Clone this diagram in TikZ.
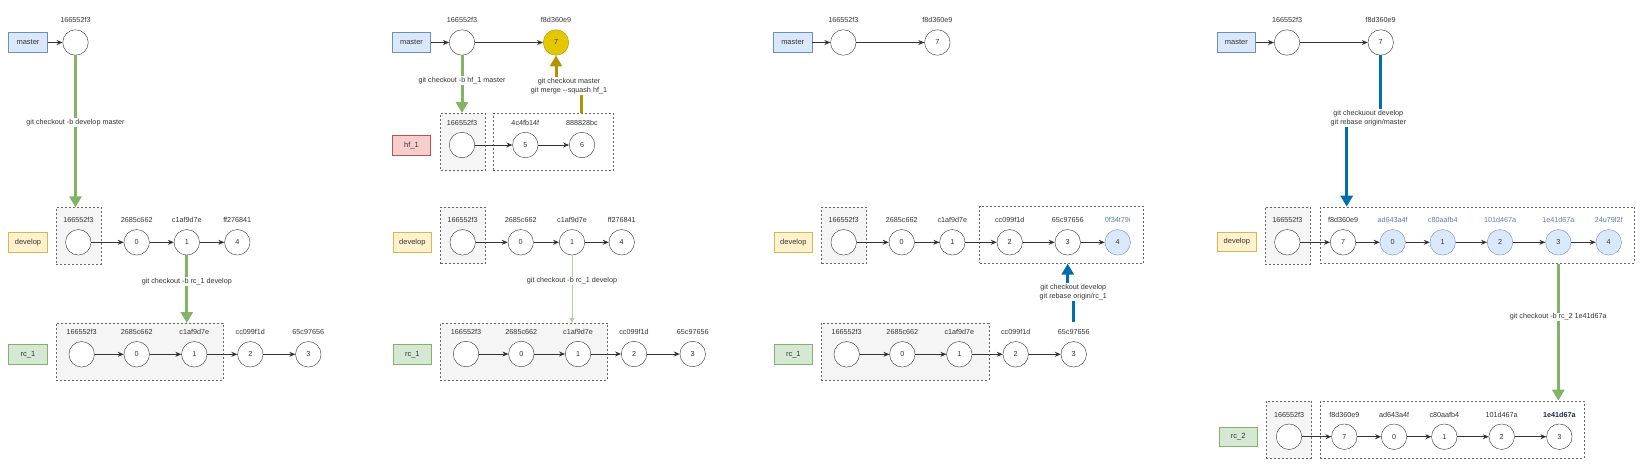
\documentclass[tikz,border=0pt]{standalone}
\usepackage{fontspec}
\setmainfont{Liberation Sans}
\usetikzlibrary{arrows.meta}

\definecolor{txtgray}{HTML}{333333}
\definecolor{mblue}{HTML}{DAE8FC}
\definecolor{mblueline}{HTML}{6C8EBF}
\definecolor{dyellow}{HTML}{FFF2CC}
\definecolor{dyellowline}{HTML}{D6B656}
\definecolor{hred}{HTML}{F8CECC}
\definecolor{hredline}{HTML}{B85450}
\definecolor{rgreen}{HTML}{D5E8D4}
\definecolor{rgreenline}{HTML}{82B366}
\definecolor{grpfill}{HTML}{F5F5F5}
\definecolor{grpline}{HTML}{666666}
\definecolor{squash}{HTML}{E3C800}
\definecolor{squashline}{HTML}{B09500}
\definecolor{rebase}{HTML}{006EAF}
\definecolor{lgreen}{HTML}{B3D1A0}
\definecolor{newhash}{HTML}{5B7DB8}
\definecolor{boldhash}{HTML}{1A2A4A}

\tikzset{
 commit/.style={circle, draw=txtgray, fill=white, minimum size=25.5pt, inner sep=0pt,
  font=\fontsize{7.2}{8}\selectfont, text=txtgray},
 newcommit/.style={commit, fill=mblue, draw=mblueline},
 hash/.style={font=\fontsize{7.2}{8}\selectfont, text=txtgray, label distance=3pt},
 newhashlab/.style={hash, text=newhash},
 branch/.style={rectangle, minimum width=38.5pt, minimum height=19.5pt, inner sep=0pt,
  line width=0.8pt, font=\fontsize{7.5}{9}\selectfont, text=txtgray},
 grpbox/.style={rectangle, fill=grpfill, draw=grpline, dash pattern=on 2pt off 2pt, line width=0.6pt, inner sep=0pt},
 newbox/.style={rectangle, draw=grpline, dash pattern=on 2pt off 2pt, line width=0.6pt, inner sep=0pt},
 link/.style={draw=txtgray, line width=0.8pt, -{Stealth[length=6pt,width=5pt]}},
 cmd/.style={fill=white, inner sep=1pt, font=\fontsize{7.2}{9}\selectfont, text=txtgray, align=center},
 greenarrow/.style={draw=rgreenline, line width=3pt, -{Triangle[length=11pt,width=12pt]}},
 lgreenarrow/.style={draw=lgreen, line width=1pt, -{Triangle[length=5pt,width=5pt]}},
 squasharrow/.style={draw=squashline, line width=3pt, -{Triangle[length=11pt,width=12pt]}},
 squashbar/.style={draw=squashline, line width=3pt},
 bluearrow/.style={draw=rebase, line width=3pt, -{Triangle[length=11pt,width=12pt]}},
 bluebar/.style={draw=rebase, line width=3pt}
}

\begin{document}
\begin{tikzpicture}[x=1pt,y=-1pt]
 \useasboundingbox (0,0) rectangle (1648,469);

 % ---- panel 1 : develop and rc_1 from master
 \node[branch,fill=mblue,draw=mblueline] (p1mb) at (28,42.5) {master};
 \node[commit,label={[hash]above:166552f3}] (p1m1) at (75.5,42.5) {};
 \draw[link] (p1mb) -- (p1m1);

 \node[grpbox,minimum width=45pt,minimum height=56.6pt] (p1dg) at (78.5,236) {};
 \node[branch,fill=dyellow,draw=dyellowline] (p1db) at (28,242.3) {develop};
 \node[commit,label={[hash]above:166552f3}] (p1d1) at (78.3,242.3) {};
 \node[commit,label={[hash]above:2685c662}] (p1d2) at (136.7,242.3) {0};
 \node[commit,label={[hash]above:c1af9d7e}] (p1d3) at (186.8,242.3) {1};
 \node[commit,label={[hash]above:ff276841}] (p1d4) at (237.3,242.3) {4};
 \draw[link] (p1d1) -- (p1d2);
 \draw[link] (p1d2) -- (p1d3);
 \draw[link] (p1d3) -- (p1d4);

 \node[grpbox,minimum width=167.3pt,minimum height=56.7pt] (p1rg) at (139.65,351.65) {};
 \node[branch,fill=rgreen,draw=rgreenline] (p1rb) at (28,354.6) {rc\_1};
 \node[commit,label={[hash]above:166552f3}] (p1r1) at (81.7,354.3) {};
 \node[commit,label={[hash]above:2685c662}] (p1r2) at (136.7,354.3) {0};
 \node[commit,label={[hash]above:c1af9d7e}] (p1r3) at (194.3,354.3) {1};
 \node[commit,label={[hash]above:cc099f1d}] (p1r4) at (250.3,354.3) {2};
 \node[commit,label={[hash]above:65c97656}] (p1r5) at (308.3,354.3) {3};
 \draw[link] (p1r1) -- (p1r2);
 \draw[link] (p1r2) -- (p1r3);
 \draw[link] (p1r3) -- (p1r4);
 \draw[link] (p1r4) -- (p1r5);

 \draw[greenarrow] (p1m1.south) -- node[cmd,pos=0.44] {git checkout -b develop master} (p1m1 |- p1dg.north);
 \draw[greenarrow] (p1d3.south) -- node[cmd,pos=0.39] {git checkout -b rc\_1 develop} (p1d3 |- p1rg.north);

 % ---- panel 2 : hotfix squashed into master
 \node[branch,fill=mblue,draw=mblueline] (p2mb) at (411.5,42.5) {master};
 \node[commit,label={[hash]above:166552f3}] (p2m1) at (462,42.5) {};
 \node[commit,fill=squash,draw=squashline,label={[hash]above:f8d360e9}] (p2m2) at (556,42.5) {7};
 \draw[link] (p2mb) -- (p2m1);
 \draw[link] (p2m1) -- (p2m2);

 \node[grpbox,minimum width=44.6pt,minimum height=57pt] (p2hg) at (463,141.8) {};
 \node[newbox,minimum width=120.3pt,minimum height=57pt] (p2hn) at (553.15,141.8) {};
 \node[branch,fill=hred,draw=hredline] (p2hb) at (411.5,145.3) {hf\_1};
 \node[commit,label={[hash]above:166552f3}] (p2h1) at (462,145) {};
 \node[commit,label={[hash]above:4c4fb14f}] (p2h2) at (525.3,145) {5};
 \node[commit,label={[hash]above:888828bc}] (p2h3) at (582,145) {6};
 \draw[link] (p2h1) -- (p2h2);
 \draw[link] (p2h2) -- (p2h3);

 \draw[greenarrow] (p2m1.south) -- node[cmd,pos=0.44] {git checkout -b hf\_1 master} (p2m1 |- p2hg.north);
 \node[cmd] (p2sq) at (569,86.2) {git checkout master\\git merge -{}-squash hf\_1};
 \coordinate (p2sqx) at (581,0);
 \draw[squashbar] (p2hn.north -| p2sqx) -- (p2sq.south -| p2sqx);
 \draw[squasharrow] (p2sq.north -| p2m2) -- (p2m2.south);

 \node[grpbox,minimum width=44.6pt,minimum height=56.4pt] (p2dg) at (463,235.5) {};
 \node[branch,fill=dyellow,draw=dyellowline] (p2db) at (412.3,242.2) {develop};
 \node[commit,label={[hash]above:166552f3}] (p2d1) at (462.7,242.3) {};
 \node[commit,label={[hash]above:2685c662}] (p2d2) at (520.7,242.3) {0};
 \node[commit,label={[hash]above:c1af9d7e}] (p2d3) at (572,242.3) {1};
 \node[commit,label={[hash]above:ff276841}] (p2d4) at (621.7,242.3) {4};
 \draw[link] (p2d1) -- (p2d2);
 \draw[link] (p2d2) -- (p2d3);
 \draw[link] (p2d3) -- (p2d4);

 \node[grpbox,minimum width=167.4pt,minimum height=56.7pt] (p2rg) at (524,351.65) {};
 \node[branch,fill=rgreen,draw=rgreenline] (p2rb) at (412.3,354.5) {rc\_1};
 \node[commit,label={[hash]above:166552f3}] (p2r1) at (466,354) {};
 \node[commit,label={[hash]above:2685c662}] (p2r2) at (521.3,354) {0};
 \node[commit,label={[hash]above:c1af9d7e}] (p2r3) at (578,354) {1};
 \node[commit,label={[hash]above:cc099f1d}] (p2r4) at (634,354) {2};
 \node[commit,label={[hash]above:65c97656}] (p2r5) at (692.7,354) {3};
 \draw[link] (p2r1) -- (p2r2);
 \draw[link] (p2r2) -- (p2r3);
 \draw[link] (p2r3) -- (p2r4);
 \draw[link] (p2r4) -- (p2r5);

 \draw[lgreenarrow] (p2d3.south) -- node[cmd,pos=0.38] {git checkout -b rc\_1 develop} (p2d3 |- p2rg.north);

 % ---- panel 3 : develop rebased onto rc_1
 \node[branch,fill=mblue,draw=mblueline] (p3mb) at (792.7,42.5) {master};
 \node[commit,label={[hash]above:166552f3}] (p3m1) at (843.3,42.5) {};
 \node[commit,label={[hash]above:f8d360e9}] (p3m2) at (937.3,42.5) {7};
 \draw[link] (p3mb) -- (p3m1);
 \draw[link] (p3m1) -- (p3m2);

 \node[grpbox,minimum width=44.6pt,minimum height=56.4pt] (p3dg) at (844,235.5) {};
 \node[newbox,minimum width=163.6pt,minimum height=57pt] (p3dn) at (1061.5,234.8) {};
 \node[branch,fill=dyellow,draw=dyellowline] (p3db) at (793.3,242.2) {develop};
 \node[commit,label={[hash]above:166552f3}] (p3d1) at (843.7,242.3) {};
 \node[commit,label={[hash]above:2685c662}] (p3d2) at (901.7,242.3) {0};
 \node[commit,label={[hash]above:c1af9d7e}] (p3d3) at (952.3,242.3) {1};
 \node[commit,label={[hash]above:cc099f1d}] (p3d4) at (1009.7,242.3) {2};
 \node[commit,label={[hash]above:65c97656}] (p3d5) at (1067.7,242.3) {3};
 \node[newcommit,label={[newhashlab]above:0f34t79i}] (p3d6) at (1117.7,242.3) {4};
 \draw[link] (p3d1) -- (p3d2);
 \draw[link] (p3d2) -- (p3d3);
 \draw[link] (p3d3) -- (p3d4);
 \draw[link] (p3d4) -- (p3d5);
 \draw[link] (p3d5) -- (p3d6);

 \node[grpbox,minimum width=167.7pt,minimum height=56.7pt] (p3rg) at (905.15,351.65) {};
 \node[branch,fill=rgreen,draw=rgreenline] (p3rb) at (793.3,354.5) {rc\_1};
 \node[commit,label={[hash]above:166552f3}] (p3r1) at (846.7,354.3) {};
 \node[commit,label={[hash]above:2685c662}] (p3r2) at (902.3,354.3) {0};
 \node[commit,label={[hash]above:c1af9d7e}] (p3r3) at (959.3,354.3) {1};
 \node[commit,label={[hash]above:cc099f1d}] (p3r4) at (1015.7,354.3) {2};
 \node[commit,label={[hash]above:65c97656}] (p3r5) at (1073.7,354.3) {3};
 \draw[link] (p3r1) -- (p3r2);
 \draw[link] (p3r2) -- (p3r3);
 \draw[link] (p3r3) -- (p3r4);
 \draw[link] (p3r4) -- (p3r5);

 \node[cmd] (p3rc) at (1073.3,292.2) {git checkout develop\\git rebase origin/rc\_1};
 \coordinate (p3rs) at (1073.7,321.7);
 \draw[bluebar] (p3rs) -- (p3rc.south -| p3rs);
 \draw[bluearrow] (p3rc.north -| p3d5) -- (p3dn.south -| p3d5);

 % ---- panel 4 : develop rebased onto master, rc_2 cut
 \node[branch,fill=mblue,draw=mblueline] (p4mb) at (1236.3,42.5) {master};
 \node[commit,label={[hash]above:166552f3}] (p4m1) at (1287,42.5) {};
 \node[commit,label={[hash]above:f8d360e9}] (p4m2) at (1380.7,42.5) {7};
 \draw[link] (p4mb) -- (p4m1);
 \draw[link] (p4m1) -- (p4m2);

 \node[grpbox,minimum width=45pt,minimum height=57pt] (p4dg) at (1287.8,235.5) {};
 \node[newbox,minimum width=314pt,minimum height=56.3pt] (p4dn) at (1477.3,235.15) {};
 \node[branch,fill=dyellow,draw=dyellowline] (p4db) at (1236.85,242) {develop};
 \node[commit,label={[hash]above:166552f3}] (p4d1) at (1287.3,242.3) {};
 \node[commit,label={[hash]above:f8d360e9}] (p4d2) at (1343,242.3) {7};
 \node[newcommit,label={[newhashlab]above:ad643a4f}] (p4d3) at (1392.7,242.3) {0};
 \node[newcommit,label={[newhashlab]above:c80aafb4}] (p4d4) at (1442.7,242.3) {1};
 \node[newcommit,label={[newhashlab]above:101d467a}] (p4d5) at (1500,242.3) {2};
 \node[newcommit,label={[newhashlab]above:1e41d67a}] (p4d6) at (1558.3,242.3) {3};
 \node[newcommit,label={[newhashlab]above:24u79l2f}] (p4d7) at (1608.7,242.3) {4};
 \draw[link] (p4d1) -- (p4d2);
 \draw[link] (p4d2) -- (p4d3);
 \draw[link] (p4d3) -- (p4d4);
 \draw[link] (p4d4) -- (p4d5);
 \draw[link] (p4d5) -- (p4d6);
 \draw[link] (p4d6) -- (p4d7);

 \node[cmd] (p4rc) at (1368.3,118.2) {git checkuout develop\\git rebase origin/master};
 \coordinate (p4rx) at (1346.7,0);
 \draw[bluebar] (p4m2.south) -- (p4m2 |- p4rc.north);
 \draw[bluearrow] (p4rc.south -| p4rx) -- (p4dn.north -| p4rx);

 \node[grpbox,minimum width=45.4pt,minimum height=57pt] (p4rg) at (1289,429.5) {};
 \node[newbox,minimum width=263.7pt,minimum height=57pt] (p4rn) at (1452.15,429.5) {};
 \node[branch,fill=rgreen,draw=rgreenline] (p4rb) at (1238.2,437) {rc\_2};
 \node[commit,label={[hash]above:166552f3}] (p4r1) at (1289,436.7) {};
 \node[commit,label={[hash]above:f8d360e9}] (p4r2) at (1344.3,436.7) {7};
 \node[commit,label={[hash]above:ad643a4f}] (p4r3) at (1394,436.7) {0};
 \node[commit,label={[hash]above:c80aafb4}] (p4r4) at (1444.3,436.7) {1};
 \node[commit,label={[hash]above:101d467a}] (p4r5) at (1501.7,436.7) {2};
 \node[commit,label={[hash,text=boldhash,font=\fontsize{7.2}{8}\selectfont\bfseries]above:1e41d67a}] (p4r6) at (1559.3,436.7) {3};
 \draw[link] (p4r1) -- (p4r2);
 \draw[link] (p4r2) -- (p4r3);
 \draw[link] (p4r3) -- (p4r4);
 \draw[link] (p4r4) -- (p4r5);
 \draw[link] (p4r5) -- (p4r6);

 \draw[greenarrow] (p4dn.south -| p4d6) -- node[cmd,pos=0.39] {git checkout -b rc\_2 1e41d67a} (p4rn.north -| p4d6);
\end{tikzpicture}
\end{document}
